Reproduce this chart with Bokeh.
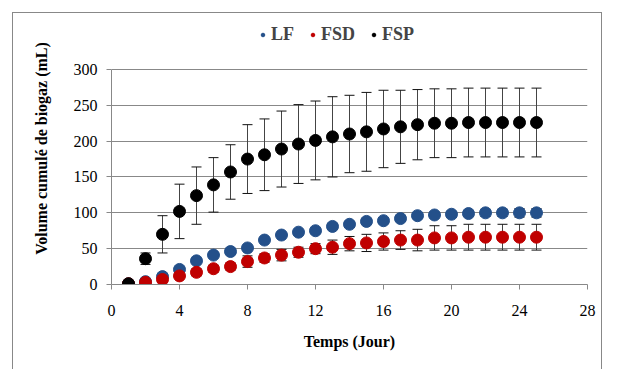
from bokeh.plotting import figure
from bokeh.models import (ColumnDataSource, Whisker, TeeHead, Legend, LegendItem,
                          FixedTicker, Range1d)
from bokeh.embed import file_html
from bokeh.resources import INLINE

days = list(range(1, 26))
lf = [1, 4, 11, 21, 33, 41, 46, 51, 62, 69, 73, 75, 81, 84, 88, 89, 92, 96, 97, 98, 99, 100, 100, 100, 100]
lf_err = [0, 1, 2, 2, 3, 3, 3, 3, 3, 3, 3, 4, 4, 4, 4, 4, 4, 4, 4, 4, 4, 5, 5, 6, 6]
fsd = [1, 3, 7, 12, 17, 22, 25, 32, 37, 41, 45, 50, 52, 57, 58, 60, 62, 62, 65, 65, 66, 66, 66, 66, 66]
fsd_err = [0, 1, 2, 4, 5, 5, 5, 8, 6, 8, 7, 7, 10, 10, 12, 12, 13, 15, 17, 17, 18, 18, 18, 18, 18]
fsp = [1, 36, 70, 102, 124, 139, 157, 175, 181, 189, 196, 201, 206, 210, 213, 217, 220, 223, 225, 225, 226, 226, 226, 226, 226]
fsp_err = [0, 8, 26, 38, 40, 38, 38, 48, 50, 53, 55, 55, 56, 54, 55, 54, 51, 49, 48, 48, 48, 48, 48, 48, 48]

x_ticks = [0, 4, 8, 12, 16, 20, 24, 28]
y_ticks = [0, 50, 100, 150, 200, 250, 300]

series = [("LF", lf, lf_err, "#24508A"), ("FSD", fsd, fsd_err, "#C00000"), ("FSP", fsp, fsp_err, "#000000")]

# frame extends above the 300 gridline to hold the legend
p = figure(width=603, height=353, output_backend="svg", toolbar_location=None,
           x_range=Range1d(0, 28), y_range=Range1d(0, 379.5),
           min_border_left=111, min_border_right=16, min_border_top=12, min_border_bottom=69)
p.outline_line_color = None
p.background_fill_color = "white"
p.border_fill_color = "white"
p.stylesheets = [":host::after { content: ''; position: absolute; left: 12px; top: 12px; "
                 "width: 590px; height: 360px; border: 1px solid #888888; border-bottom: none; "
                 "pointer-events: none; box-sizing: border-box; }"]

font = "Liberation Serif"
for ax in (p.xaxis[0], p.yaxis[0]):
    ax.axis_line_color = "#888888"
    ax.major_tick_line_color = "#888888"
    ax.minor_tick_line_color = None
    ax.major_label_text_font = font
    ax.major_label_text_font_size = "16px"
    ax.major_label_text_color = "black"
    ax.axis_label_text_font = font
    ax.axis_label_text_font_size = "16px"
    ax.axis_label_text_font_style = "bold"
    ax.axis_label_text_color = "black"
p.xaxis[0].ticker = FixedTicker(ticks=x_ticks)
p.yaxis[0].ticker = FixedTicker(ticks=y_ticks)
p.yaxis[0].bounds = (0, 300)
p.xaxis[0].major_tick_in = 0
p.xaxis[0].major_tick_out = 5
p.yaxis[0].major_tick_in = 0
p.yaxis[0].major_tick_out = 5
p.xaxis[0].major_label_standoff = 15
p.yaxis[0].major_label_standoff = 9
p.xaxis[0].axis_label = "Temps (Jour)"
p.yaxis[0].axis_label = "Volume cumulé de biogaz (mL)"
p.xaxis[0].axis_label_standoff = 14
p.yaxis[0].axis_label_standoff = 21
p.xgrid.grid_line_color = None
p.ygrid.grid_line_color = "#888888"
p.ygrid.grid_line_width = 1

for name, vals, errs, color in series:
    src = ColumnDataSource(dict(x=days, y=vals,
                                upper=[v + e for v, e in zip(vals, errs)],
                                lower=[v - e for v, e in zip(vals, errs)]))
    w = Whisker(source=src, base="x", upper="upper", lower="lower",
                line_color="#444444", line_width=1, level="underlay",
                upper_head=TeeHead(size=10, line_color="#111111", line_width=1),
                lower_head=TeeHead(size=10, line_color="#111111", line_width=1))
    p.add_layout(w)

renderers = {}
for name, vals, errs, color in series:
    src = ColumnDataSource(dict(x=days, y=vals))
    r = p.scatter("x", "y", source=src, size=12, fill_color=color, line_color=color)
    renderers[name] = r

legend = Legend(items=[LegendItem(label=n, renderers=[renderers[n]]) for n, _, _, _ in series],
                orientation="horizontal", location=(147, 239),
                label_text_font=font, label_text_font_style="bold", label_text_font_size="18px",
                glyph_width=9, glyph_height=9, label_standoff=4, spacing=14,
                border_line_color=None, background_fill_alpha=0, padding=0, margin=0)
p.add_layout(legend, "center")

open("out.html", "w").write(file_html(p, INLINE))
